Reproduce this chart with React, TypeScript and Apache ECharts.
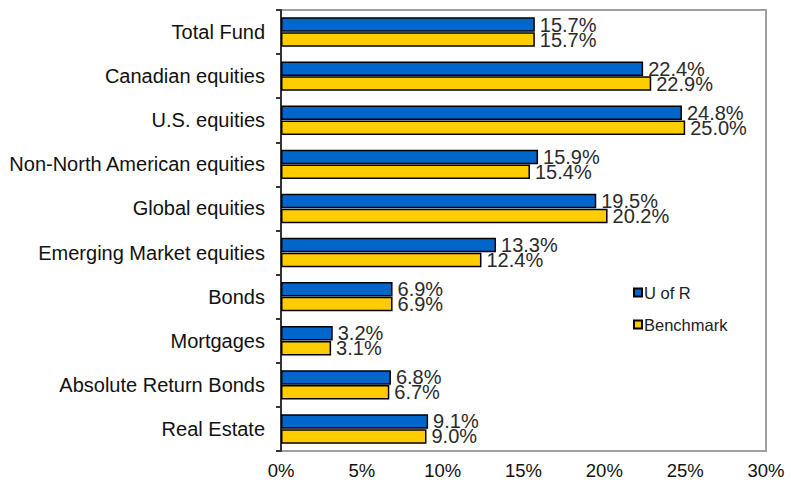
import React, { useEffect, useRef } from "react";
import * as echarts from "echarts";

const categories = [
  "Total Fund",
  "Canadian equities",
  "U.S. equities",
  "Non-North American equities",
  "Global equities",
  "Emerging Market equities",
  "Bonds",
  "Mortgages",
  "Absolute Return Bonds",
  "Real Estate",
];
const uOfR = [15.7, 22.4, 24.8, 15.9, 19.5, 13.3, 6.9, 3.2, 6.8, 9.1];
const benchmark = [15.7, 22.9, 25.0, 15.4, 20.2, 12.4, 6.9, 3.1, 6.7, 9.0];
const xTicks = [0, 5, 10, 15, 20, 25, 30];

const FONT = "'Liberation Sans', Arial, sans-serif";

export default function App() {
  const ref = useRef<HTMLDivElement>(null);
  useEffect(() => {
    if (!ref.current) return;
    const chart = echarts.init(ref.current, undefined, { renderer: "svg" });
    const label = {
      show: true,
      position: "right",
      distance: 5,
      color: "#2a2a2a",
      fontFamily: FONT,
      fontSize: 20,
      lineHeight: 16,
      formatter: (p: any) => p.value.toFixed(1) + "%",
    };
    chart.setOption({
      animation: false,
      grid: {
        left: 281,
        right: 25,
        top: 10,
        bottom: 32,
        show: true,
        borderColor: "#a0a0a0",
        borderWidth: 2,
      },
      legend: {
        orient: "vertical",
        left: 628,
        top: 279,
        itemWidth: 8,
        itemHeight: 8,
        itemGap: 15,
        icon: "rect",
        textStyle: { fontFamily: FONT, fontSize: 16.5, color: "#222", padding: [0, 0, 0, -3] },
        data: ["U of R", "Benchmark"],
      },
      xAxis: {
        type: "value",
        min: 0,
        max: 30,
        interval: 5,
        axisLine: { show: false },
        axisTick: { show: false },
        splitLine: { show: false },
        axisLabel: {
          margin: 10,
          fontFamily: FONT,
          fontSize: 18.5,
          color: "#111",
          formatter: (v: number) => (xTicks.includes(v) ? v + "%" : ""),
        },
      },
      yAxis: {
        type: "category",
        data: categories,
        inverse: true,
        axisLine: { show: true, lineStyle: { color: "#333", width: 2 } },
        axisTick: { show: true, length: 5, lineStyle: { color: "#333", width: 2 } },
        axisLabel: {
          margin: 16,
          fontFamily: FONT,
          fontSize: 20,
          color: "#111",
        },
      },
      series: [
        {
          name: "U of R",
          type: "bar",
          data: uOfR,
          barWidth: 14.5,
          barGap: "3%",
          itemStyle: { color: "#0066CC", borderColor: "#000", borderWidth: 1.5 },
          label,
        },
        {
          name: "Benchmark",
          type: "bar",
          data: benchmark,
          barWidth: 14.5,
          barGap: "3%",
          itemStyle: { color: "#FFCC00", borderColor: "#000", borderWidth: 1.5 },
          label,
        },
      ],
    });
    return () => chart.dispose();
  }, []);
  return (
    <div
      ref={ref}
      style={{ position: "absolute", left: 0, top: 0, width: 791, height: 483 }}
    />
  );
}
